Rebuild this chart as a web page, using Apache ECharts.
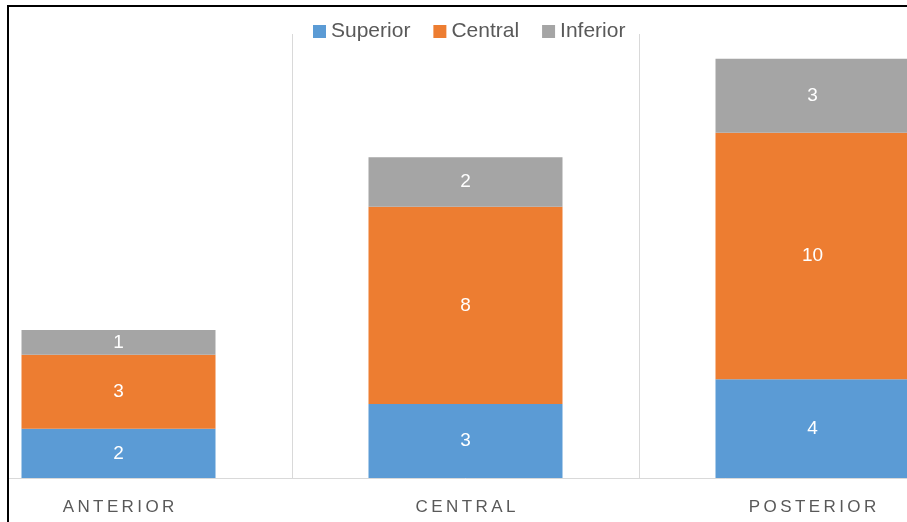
<!DOCTYPE html>
<html><head><meta charset="utf-8">
<script src="https://cdn.jsdelivr.net/npm/echarts@6/dist/echarts.min.js"></script>
<style>html,body{margin:0;padding:0;background:#fff;overflow:hidden;width:907px;height:522px;position:relative}#c{position:absolute;left:-55px;top:0;width:1041px;height:522px}</style>
</head><body><div id="c"></div>
<script>
const categories = ['ANTERIOR', 'CENTRAL', 'POSTERIOR'];
const superior = [2, 3, 4];
const central = [3, 8, 10];
const inferior = [1, 2, 3];
const seriesNames = ['Superior', 'Central', 'Inferior'];
const colors = ['#5B9BD5', '#ED7D31', '#A5A5A5'];

const OFF = 55;
const chart = echarts.init(document.getElementById('c'));
const mk = (name, data, color) => ({
  name, type: 'bar', stack: 'total', data, barWidth: 194,
  itemStyle: { color },
  label: { show: true, position: 'inside', color: '#fff', fontSize: 19, fontFamily: 'Liberation Sans' }
});
chart.setOption({
  animation: false,
  color: colors,
  grid: { left: 0, right: 0, top: 34, bottom: 44, containLabel: false },
  legend: {
    top: 16, left: 308 + OFF, itemWidth: 13, itemHeight: 13, itemGap: 23,
    icon: 'rect',
    textStyle: { fontSize: 21, color: '#595959', fontFamily: 'Liberation Sans' },
    data: seriesNames
  },
  xAxis: {
    type: 'category', data: categories,
    axisLine: { lineStyle: { color: '#D9D9D9', width: 1 } },
    axisTick: { show: false },
    splitLine: { show: true, lineStyle: { color: '#D9D9D9', width: 1 } },
    axisLabel: { color: '#595959', fontSize: 17, fontFamily: 'Liberation Sans', margin: 21,
      formatter: v => v.split('').join('\u2009') }
  },
  yAxis: { type: 'value', min: 0, max: 18, show: false, splitLine: { show: false } },
  series: [
    mk(seriesNames[0], superior, colors[0]),
    mk(seriesNames[1], central, colors[1]),
    mk(seriesNames[2], inferior, colors[2])
  ],
  graphic: [
    { type: 'rect', z: 100, shape: { x: 0, y: 0, width: OFF + 8, height: 522 }, style: { fill: '#fff' } },
    { type: 'rect', z: 101, shape: { x: OFF + 8, y: 6, width: 1200, height: 1200 }, style: { fill: 'none', stroke: '#000', lineWidth: 2 } }
  ]
});
</script></body></html>
